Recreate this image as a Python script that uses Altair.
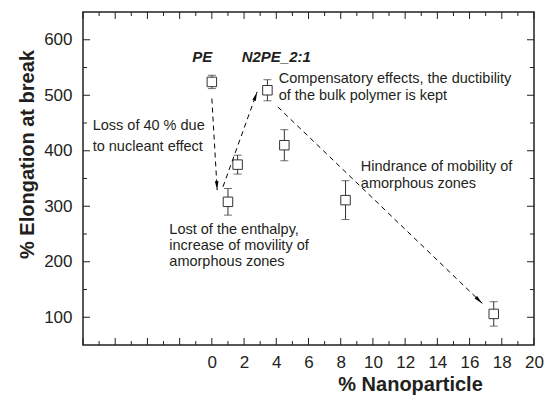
import math
import altair as alt
import pandas as pd

# ---- data ----
nano_pct = [0, 1, 1.6, 3.45, 4.5, 8.3, 17.5]
elong = [524, 308, 375, 509, 410, 311, 106]
elong_err = [12, 24, 17, 19, 28, 35, 22]

arrow_x1 = [0.0, 0.69, 4.09]
arrow_y1 = [494, 335, 479]
arrow_x2 = [0.33, 2.81, 16.79]
arrow_y2 = [329, 506, 125]

ann_text = ["Compensatory effects, the ductibility", "of the bulk polymer is kept",
            "Loss of 40 % due", "to nucleant effect",
            "Hindrance of mobility of", "amorphous zones",
            "Lost of the enthalpy,", "increase of movility of", "amorphous zones"]
ann_x = [4.15, 4.15, -7.4, -7.4, 9.25, 9.25, -2.64, -2.64, -2.64]
ann_y = [530, 498, 445, 406, 370, 340, 257, 229, 199]

lab_text = ["PE", "N2PE_2:1"]
lab_x = [-0.6, 4.0]
lab_y = [569, 569]

x_major = list(range(-8, 21, 2))
x_minor = list(range(-7, 20, 2))
y_major = list(range(100, 601, 100))
y_minor = list(range(150, 601, 100))
x_labels = list(range(0, 21, 2))

# ---- layout ----
W, H = 451, 333
XDOM, YDOM = [-8, 20], [50, 650]
FONT = "Liberation Sans"
INK = "#231f20"

xs = alt.Scale(domain=XDOM, nice=False, zero=False)
ys = alt.Scale(domain=YDOM, nice=False, zero=False)

pts = pd.DataFrame({"x": nano_pct, "y": elong, "lo": [v - e for v, e in zip(elong, elong_err)],
                    "hi": [v + e for v, e in zip(elong, elong_err)]})

pxx = W / (XDOM[1] - XDOM[0])
pxy = H / (YDOM[1] - YDOM[0])
angles = []
for a, b, c, d in zip(arrow_x1, arrow_y1, arrow_x2, arrow_y2):
    dx = (c - a) * pxx
    dys = -(d - b) * pxy
    angles.append(math.degrees(math.atan2(dx, -dys)) % 360)
arr = pd.DataFrame({"x1": arrow_x1, "y1": arrow_y1, "x2": arrow_x2, "y2": arrow_y2, "ang": angles})

ann = pd.DataFrame({"x": ann_x, "y": ann_y, "t": ann_text})
labs = pd.DataFrame({"x": lab_x, "y": lab_y, "t": lab_text})

xaxis = alt.Axis(values=x_labels, ticks=False, domain=False, grid=False, labelFontSize=17,
                 labelFont=FONT, labelColor=INK, labelPadding=9, title="% Nanoparticle",
                 titleFont=FONT, titleFontSize=20, titleFontWeight="bold", titleColor=INK,
                 titleX=327, titleY=39, titleBaseline="middle", labelFlush=False)
yaxis = alt.Axis(values=y_major, ticks=False, domain=False, grid=False, labelFontSize=17,
                 labelFont=FONT, labelColor=INK, labelPadding=11, title="% Elongation at break",
                 titleFont=FONT, titleFontSize=20, titleFontWeight="bold", titleColor=INK,
                 titleX=-56, titleY=142, titleBaseline="middle", titleAngle=270)

base = alt.Chart(pts)

errbars = base.mark_rule(color="#333333", strokeWidth=1).encode(
    x=alt.X("x:Q", scale=xs, axis=xaxis), y=alt.Y("lo:Q", scale=ys, axis=yaxis), y2="hi:Q")
cap_lo = base.mark_tick(orient="horizontal", color="#333333", size=8, thickness=1).encode(
    x=alt.X("x:Q", scale=xs), y=alt.Y("lo:Q", scale=ys))
cap_hi = base.mark_tick(orient="horizontal", color="#333333", size=8, thickness=1).encode(
    x=alt.X("x:Q", scale=xs), y=alt.Y("hi:Q", scale=ys))
squares = base.mark_point(shape="square", filled=True, fill="white", stroke="#333333",
                          strokeWidth=1, size=90, opacity=1).encode(
    x=alt.X("x:Q", scale=xs), y=alt.Y("y:Q", scale=ys))

arrow_lines = alt.Chart(arr).mark_rule(color="black", strokeWidth=1, strokeDash=[5, 4]).encode(
    x=alt.X("x1:Q", scale=xs), y=alt.Y("y1:Q", scale=ys), x2="x2:Q", y2="y2:Q")
arrow_heads = alt.Chart(arr).mark_point(shape="M0,0L-0.4,2L0.4,2Z", filled=True, color="black",
                                        size=80, opacity=1).encode(
    x=alt.X("x2:Q", scale=xs), y=alt.Y("y2:Q", scale=ys), angle=alt.Angle("ang:Q", scale=None))

ann_layer = alt.Chart(ann).mark_text(align="left", baseline="middle", font=FONT, fontSize=14.5,
                                     color=INK).encode(
    x=alt.X("x:Q", scale=xs), y=alt.Y("y:Q", scale=ys), text="t:N")
lab_layer = alt.Chart(labs).mark_text(align="center", baseline="middle", font=FONT, fontSize=15,
                                      fontWeight="bold", fontStyle="italic", color=INK).encode(
    x=alt.X("x:Q", scale=xs), y=alt.Y("y:Q", scale=ys), text="t:N")

def xticks(vals, length):
    d = pd.DataFrame({"v": vals})
    bot = alt.Chart(d).mark_rule(color=INK, strokeWidth=1).encode(
        x=alt.X("v:Q", scale=xs), y=alt.value(H), y2=alt.value(H - length))
    top = alt.Chart(d).mark_rule(color=INK, strokeWidth=1).encode(
        x=alt.X("v:Q", scale=xs), y=alt.value(0), y2=alt.value(length))
    return bot + top

def yticks(vals, length):
    d = pd.DataFrame({"v": vals})
    left = alt.Chart(d).mark_rule(color=INK, strokeWidth=1).encode(
        y=alt.Y("v:Q", scale=ys), x=alt.value(0), x2=alt.value(length))
    right = alt.Chart(d).mark_rule(color=INK, strokeWidth=1).encode(
        y=alt.Y("v:Q", scale=ys), x=alt.value(W), x2=alt.value(W - length))
    return left + right

chart = alt.layer(
    errbars, cap_lo, cap_hi, squares, arrow_lines, arrow_heads, ann_layer, lab_layer,
    xticks(x_major, 7), xticks(x_minor, 4), yticks(y_major, 7), yticks(y_minor, 4),
).properties(
    width=W, height=H,
    autosize=alt.AutoSizeParams(type="none"),
    padding={"left": 83, "top": 12, "right": 14, "bottom": 52},
    background="white",
).configure_view(stroke=INK, strokeWidth=1.5)

chart.save("out.html", embed_options={"renderer": "svg", "actions": False})
